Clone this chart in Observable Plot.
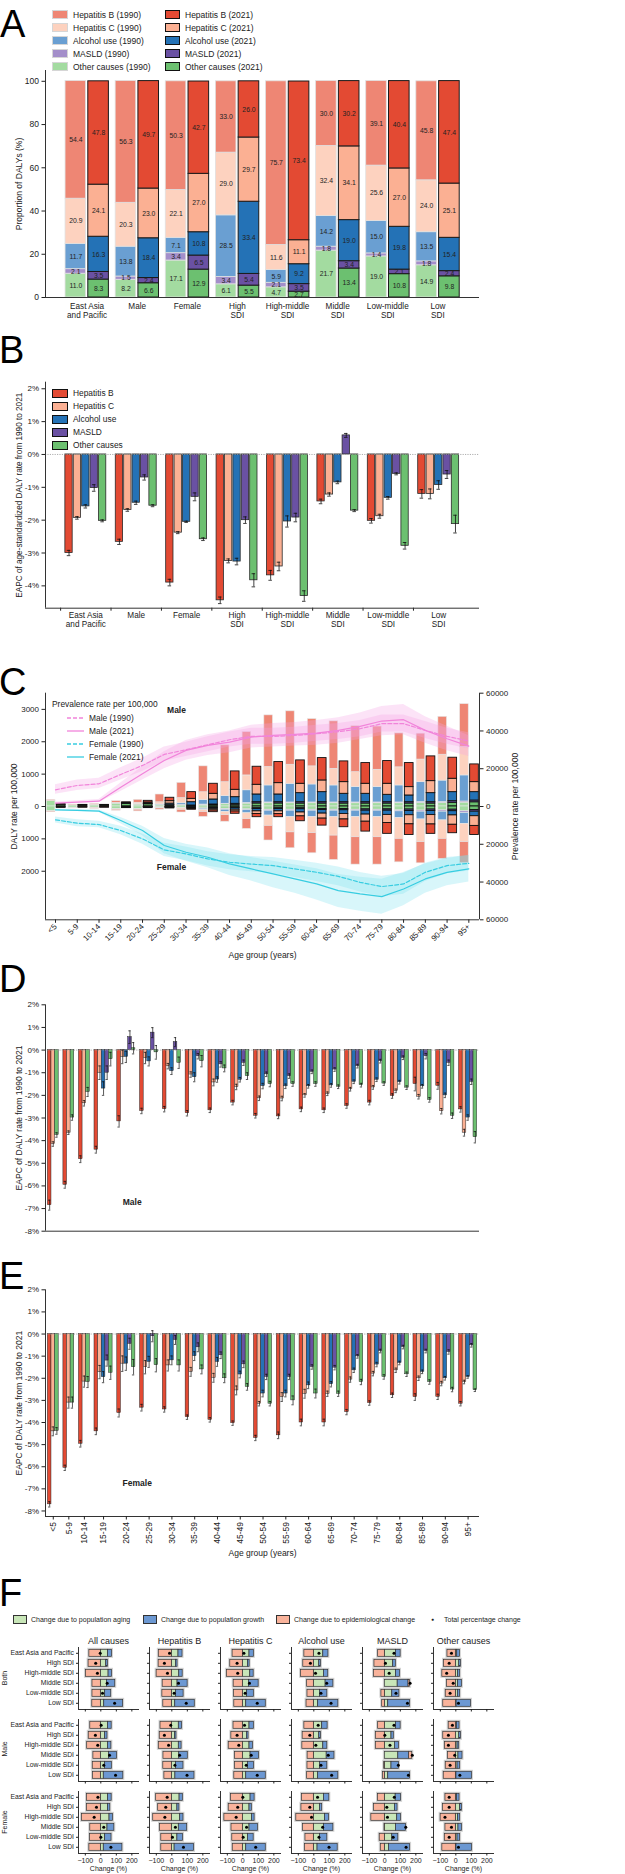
<!DOCTYPE html>
<html>
<head>
<meta charset="utf-8">
<script src="https://cdn.jsdelivr.net/npm/d3@7"></script>
<script src="https://cdn.jsdelivr.net/npm/@observablehq/plot@0.6"></script>
<style>
  body { margin: 0; background: #fff; }
  #fig { position: relative; width: 625px; height: 1874px; overflow: hidden;
         font-family: "Liberation Sans", Arial, sans-serif; color: #222; }
  .letter { position: absolute; font-size: 38px; line-height: 1; color: #000; }
  .lg { position: absolute; display: flex; align-items: center; white-space: nowrap; height: 12px; color: #222; }
  .sw { display: inline-block; box-sizing: border-box; }
  .rot { position: absolute; width: 80px; height: 12px; line-height: 12px; text-align: center;
         transform: rotate(-90deg); white-space: nowrap; color: #222; }
</style>
</head>
<body>
<div id="fig"></div>
<script>
// ---------- shared categories ----------
const causeNames = ["Hepatitis B", "Hepatitis C", "Alcohol use", "MASLD", "Other causes"];
const groupLabels = ["East Asia\nand Pacific", "Male", "Female", "High\nSDI", "High-middle\nSDI", "Middle\nSDI", "Low-middle\nSDI", "Low\nSDI"];
const ages = ["<5","5-9","10-14","15-19","20-24","25-29","30-34","35-39","40-44","45-49","50-54","55-59","60-64","65-69","70-74","75-79","80-84","85-89","90-94","95+"];

// ---------- A: share of DALYs (%) by cause ----------
const shareHepB1990  = [54.4, 56.3, 50.3, 33.0, 75.7, 30.0, 39.1, 45.8];
const shareHepB2021  = [47.8, 49.7, 42.7, 26.0, 73.4, 30.2, 40.4, 47.4];
const shareHepC1990  = [20.9, 20.3, 22.1, 29.0, 11.6, 32.4, 25.6, 24.0];
const shareHepC2021  = [24.1, 23.0, 27.0, 29.7, 11.1, 34.1, 27.0, 25.1];
const shareAlc1990   = [11.7, 13.8, 7.1, 28.5, 5.9, 14.2, 15.0, 13.5];
const shareAlc2021   = [16.3, 18.4, 10.8, 33.4, 9.2, 19.0, 19.8, 15.4];
const shareMasld1990 = [2.1, 1.5, 3.4, 3.4, 2.1, 1.8, 1.4, 1.8];
const shareMasld2021 = [3.5, 2.4, 6.5, 5.4, 3.5, 3.4, 2.1, 2.4];
const shareOther1990 = [11.0, 8.2, 17.1, 6.1, 4.7, 21.7, 19.0, 14.9];
const shareOther2021 = [8.3, 6.6, 12.9, 5.5, 2.7, 13.4, 10.8, 9.8];

// ---------- B: EAPC of age-standardized DALY rate (%) and CI half-widths ----------
const eapcHepB  = [-3.00, -2.66, -3.90, -4.44, -3.68, -1.43, -2.02, -1.20];
const eapcHepC  = [-1.93, -1.69, -2.38, -3.24, -3.41, -1.22, -1.88, -1.20];
const eapcAlc   = [-1.58, -1.47, -2.05, -3.26, -2.04, -0.85, -1.32, -0.93];
const eapcMasld = [-1.02, -0.70, -1.29, -2.00, -1.92, 0.58, -0.59, -0.61];
const eapcOther = [-2.02, -1.56, -2.58, -3.83, -4.31, -1.71, -2.78, -2.12];
const ciHepB  = [0.08, 0.08, 0.10, 0.10, 0.15, 0.07, 0.07, 0.13];
const ciHepC  = [0.04, 0.04, 0.03, 0.06, 0.13, 0.05, 0.06, 0.15];
const ciAlc   = [0.05, 0.05, 0.02, 0.10, 0.17, 0.04, 0.04, 0.13];
const ciMasld = [0.10, 0.08, 0.12, 0.10, 0.13, 0.06, 0.03, 0.12];
const ciOther = [0.03, 0.03, 0.04, 0.20, 0.16, 0.03, 0.10, 0.27];

// ---------- C: DALY rate per 100,000 by age (male up, female down) ----------
const m1990HepB  = [25, 15, 25, 50, 90, 240, 470, 800, 1140, 1340, 1595, 1650, 1460, 1465, 1420, 1335, 1050, 800, 1170, 1320];
const m1990HepC  = [5, 5, 5, 15, 40, 65, 160, 240, 430, 460, 570, 590, 560, 515, 460, 535, 560, 700, 800, 880];
const m1990Alc   = [0, 0, 0, 5, 10, 20, 55, 140, 235, 390, 525, 575, 555, 525, 475, 475, 525, 610, 660, 805];
const m1990Masld = [0, 0, 0, 5, 5, 5, 5, 10, 15, 20, 25, 25, 25, 25, 25, 25, 25, 30, 30, 35];
const m1990Other = [170, 40, 50, 90, 60, 40, 40, 50, 70, 90, 100, 100, 100, 100, 100, 100, 100, 110, 110, 120];
const m2021HepB  = [10, 10, 10, 25, 50, 105, 207, 310, 568, 557, 651, 722, 691, 640, 640, 702, 743, 764, 650, 547];
const m2021HepC  = [5, 5, 5, 10, 30, 75, 103, 175, 227, 299, 350, 289, 361, 361, 310, 341, 258, 371, 413, 309];
const m2021Alc   = [0, 0, 0, 5, 20, 50, 103, 155, 206, 238, 238, 279, 310, 258, 258, 227, 207, 279, 279, 258];
const m2021Masld = [0, 0, 0, 5, 5, 5, 10, 20, 28, 40, 40, 42, 42, 42, 42, 42, 42, 42, 50, 55];
const m2021Other = [55, 35, 35, 85, 70, 35, 21, 42, 55, 94, 94, 92, 92, 92, 92, 92, 92, 92, 115, 131];
const f1990HepB  = [20, 10, 15, 30, 50, 40, 80, 150, 200, 300, 450, 490, 620, 750, 845, 845, 725, 655, 620, 650];
const f1990HepC  = [5, 5, 5, 10, 20, 20, 45, 60, 100, 180, 320, 470, 495, 570, 620, 620, 640, 700, 570, 560];
const f1990Alc   = [0, 0, 0, 0, 5, 5, 15, 40, 70, 100, 150, 200, 200, 200, 200, 200, 210, 240, 270, 340];
const f1990Masld = [0, 0, 0, 5, 5, 5, 5, 10, 20, 20, 30, 30, 30, 30, 30, 30, 30, 35, 40, 50];
const f1990Other = [150, 45, 50, 85, 70, 30, 40, 60, 80, 90, 100, 100, 100, 100, 100, 100, 120, 125, 120, 150];
const f2021HepB  = [10, 5, 5, 10, 15, 15, 30, 50, 70, 100, 95, 150, 215, 240, 305, 335, 330, 290, 260, 280];
const f2021HepC  = [5, 3, 3, 5, 10, 15, 25, 40, 55, 80, 85, 120, 155, 170, 220, 250, 280, 290, 290, 300];
const f2021Alc   = [0, 0, 0, 2, 5, 10, 20, 40, 50, 70, 70, 100, 110, 115, 120, 130, 130, 125, 130, 140];
const f2021Masld = [0, 0, 0, 3, 5, 5, 5, 10, 15, 25, 25, 30, 35, 35, 40, 40, 45, 45, 45, 50];
const f2021Other = [25, 25, 25, 30, 15, 15, 20, 35, 35, 55, 55, 55, 75, 80, 90, 90, 95, 95, 100, 110];

// prevalence rate per 100,000 with uncertainty bounds
const prevMale1990   = [8840, 11140, 12020, 16970, 21750, 27580, 30060, 32710, 35360, 37130, 37130, 37660, 38540, 39600, 41190, 43850, 43850, 40310, 37130, 34650];
const prevMale1990Lo = [6500, 8500, 9500, 14000, 18500, 24000, 26500, 29000, 31500, 33000, 33000, 33500, 34500, 35500, 37000, 39500, 39500, 36000, 33000, 30500];
const prevMale1990Hi = [11500, 14000, 15000, 20500, 25500, 31500, 34000, 37000, 39500, 41500, 41500, 42000, 43000, 44000, 45500, 48500, 48500, 45000, 41500, 39000];
const prevMale2021   = [1770, 2300, 2830, 10250, 17330, 24400, 29700, 32350, 34120, 36770, 37660, 38190, 38900, 40310, 42430, 45260, 45970, 40310, 35890, 32000];
const prevMale2021Lo = [1200, 1600, 2000, 8000, 14000, 20000, 24500, 27000, 28500, 31000, 31500, 32000, 32500, 33500, 35500, 37500, 38000, 33500, 29500, 26500];
const prevMale2021Hi = [2400, 3000, 3700, 12500, 21000, 29000, 35000, 38000, 40000, 43000, 44000, 44500, 45500, 47000, 49500, 53000, 54000, 47500, 42500, 37500];
const prevFemale1990   = [7070, 8840, 9550, 12730, 17150, 22980, 25100, 27760, 29530, 30500, 31300, 33060, 34850, 37000, 40150, 42440, 41000, 34850, 31300, 30080];
const prevFemale1990Lo = [5500, 7000, 7800, 10500, 14500, 19500, 21500, 24000, 25500, 26500, 27000, 28500, 30000, 32000, 35000, 37000, 35500, 30000, 27000, 26000];
const prevFemale1990Hi = [8700, 10700, 11300, 15000, 20000, 26500, 28700, 31500, 33500, 34500, 35600, 37600, 39700, 42000, 45300, 47800, 46500, 39700, 35600, 34200];
const prevFemale2021   = [1770, 2100, 2470, 7420, 12730, 20680, 24220, 26870, 30400, 33060, 35700, 38360, 41000, 44560, 46320, 47740, 43660, 38360, 34850, 33060];
const prevFemale2021Lo = [1300, 1600, 1900, 5800, 10500, 17000, 20000, 22000, 25000, 27000, 29000, 31000, 33000, 36000, 37500, 38500, 35000, 30500, 27500, 26000];
const prevFemale2021Hi = [2300, 2700, 3100, 9200, 15500, 25000, 29000, 32500, 36500, 39500, 43000, 46000, 49500, 53500, 55500, 57000, 52500, 46000, 42000, 40000];

// ---------- D / E: EAPC of DALY rate by age (null = not estimated) ----------
const maleHepB  = [-6.85, -5.95, -4.82, -4.40, -3.15, -2.69, -2.61, -2.79, -2.66, -2.32, -2.90, -2.93, -2.62, -2.66, -2.47, -2.32, -2.03, -1.50, -1.58, -2.62];
const maleHepC  = [-4.15, -3.65, -2.35, -1.00, -0.30, -0.35, -0.71, -1.08, -1.43, -1.63, -2.13, -2.14, -2.00, -1.93, -1.73, -1.65, -1.80, -2.06, -2.70, -3.65];
const maleAlc   = [null, null, null, -1.70, -0.30, -0.50, -0.93, -1.20, -1.30, -1.31, -1.59, -1.60, -1.60, -1.56, -1.40, -1.31, -1.42, -1.60, -2.00, -2.98];
const maleMasld = [null, null, null, -1.00, 0.57, 0.77, 0.35, -0.27, -0.63, -0.56, -1.07, -1.15, -0.96, -0.86, -0.71, -0.49, -0.34, -0.27, -0.56, -1.40];
const maleOther = [-3.75, -2.98, -1.85, -0.40, 0.08, -0.10, -0.56, -0.49, -0.81, -1.15, -1.50, -1.50, -1.50, -1.62, -1.55, -1.48, -1.66, -2.20, -2.90, -3.85];
const maleCiHepB  = [0.22, 0.15, 0.15, 0.15, 0.25, 0.12, 0.12, 0.12, 0.10, 0.10, 0.10, 0.10, 0.10, 0.10, 0.10, 0.10, 0.10, 0.30, 0.15, 0.12];
const maleCiHepC  = [0.10, 0.08, 0.12, 0.30, 0.30, 0.25, 0.12, 0.12, 0.15, 0.12, 0.10, 0.10, 0.08, 0.08, 0.08, 0.08, 0.08, 0.10, 0.12, 0.15];
const maleCiAlc   = [null, null, null, 0.30, 0.25, 0.20, 0.15, 0.20, 0.12, 0.10, 0.12, 0.10, 0.08, 0.08, 0.08, 0.08, 0.08, 0.08, 0.10, 0.12];
const maleCiMasld = [null, null, null, 0.30, 0.28, 0.22, 0.20, 0.12, 0.12, 0.12, 0.10, 0.10, 0.08, 0.08, 0.08, 0.08, 0.08, 0.12, 0.12, 0.12];
const maleCiOther = [0.10, 0.12, 0.20, 0.30, 0.25, 0.30, 0.25, 0.25, 0.15, 0.15, 0.12, 0.10, 0.10, 0.08, 0.08, 0.08, 0.08, 0.10, 0.12, 0.25];
const femaleHepB  = [-7.70, -6.05, -4.96, -4.40, -3.57, -3.33, -3.41, -3.76, -3.88, -4.03, -4.70, -4.58, -4.00, -4.00, -3.53, -3.12, -2.77, -2.85, -2.84, -3.15];
const femaleHepC  = [-4.40, -3.10, -2.15, -1.72, -1.34, -1.50, -1.42, -1.71, -1.98, -2.55, -3.15, -2.85, -2.70, -2.70, -2.06, -1.79, -1.64, -2.00, -2.24, -2.17];
const femaleAlc   = [null, null, null, -1.95, -1.34, -1.26, -1.19, -1.00, -1.26, -1.83, -2.69, -2.69, -2.32, -2.27, -1.64, -1.38, -1.31, -1.71, -2.00, -1.94];
const femaleMasld = [null, null, null, -1.20, -0.44, -0.10, -0.27, -0.60, -0.96, -1.37, -1.94, -1.94, -1.49, -1.52, -1.01, -0.77, -0.59, -0.77, -0.81, -0.51];
const femaleOther = [-4.38, -3.10, -2.17, -1.75, -1.50, -1.41, -1.42, -1.60, -2.00, -2.39, -3.15, -3.00, -2.69, -2.70, -2.17, -1.94, -1.82, -2.17, -2.51, -2.54];
const femaleCiHepB  = [0.12, 0.12, 0.15, 0.15, 0.18, 0.15, 0.12, 0.10, 0.10, 0.10, 0.12, 0.15, 0.15, 0.15, 0.12, 0.10, 0.10, 0.15, 0.12, 0.10];
const femaleCiHepC  = [0.20, 0.25, 0.25, 0.30, 0.35, 0.30, 0.25, 0.20, 0.20, 0.20, 0.10, 0.20, 0.20, 0.12, 0.12, 0.10, 0.10, 0.10, 0.10, 0.08];
const femaleCiAlc   = [null, null, null, 0.25, 0.30, 0.25, 0.20, 0.20, 0.20, 0.15, 0.15, 0.15, 0.15, 0.12, 0.10, 0.10, 0.08, 0.08, 0.08, 0.06];
const femaleCiMasld = [null, null, null, 0.25, 0.25, 0.25, 0.20, 0.20, 0.15, 0.15, 0.12, 0.12, 0.10, 0.10, 0.08, 0.08, 0.08, 0.08, 0.10, 0.08];
const femaleCiOther = [0.15, 0.25, 0.25, 0.30, 0.35, 0.30, 0.25, 0.20, 0.20, 0.15, 0.10, 0.20, 0.20, 0.12, 0.12, 0.10, 0.10, 0.10, 0.10, 0.06];

// ---------- F: decomposition of DALY change (%), [cause][region] ----------
const fCauses  = ["All causes", "Hepatitis B", "Hepatitis C", "Alcohol use", "MASLD", "Other causes"];
const fRegions = ["East Asia and Pacific", "High SDI", "High-middle SDI", "Middle SDI", "Low-middle SDI", "Low SDI"];
const fSexes   = ["Both", "Male", "Female"];
const agingBoth  = [[46,35,50,39,28,22],[43,26,48,37,28,22],[43,33,48,39,28,22],[61,35,65,76,39,28],[72,54,72,83,48,22],[9,22,15,15,13,5]];
const growthBoth = [[26,11,22,54,39,122],[26,11,22,65,48,126],[28,11,22,63,43,126],[33,11,28,50,48,130],[30,17,26,70,46,141],[17,11,13,24,15,93]];
const epiBoth    = [[-74,-79,-96,-54,-54,-55],[-84,-85,-98,-59,-61,-55],[-66,-81,-103,-59,-56,-55],[-61,-68,-82,-43,-41,-47],[-43,-67,-70,10,-22,-17],[-54,-76,-87,-56,-65,-81]];
const totalBoth  = [[-4,-33,-22,41,11,89],[-15,-48,-28,43,15,93],[7,-37,-33,43,15,93],[33,-22,11,83,46,111],[59,4,28,163,72,146],[-28,-43,-59,-17,-37,17]];
const agingMale  = [[46,28,46,52,28,19],[45,21,45,48,27,23],[43,26,43,50,33,22],[54,35,61,83,39,28],[72,43,65,87,43,22],[7,22,11,17,11,4]];
const growthMale = [[24,15,22,52,43,126],[21,9,18,55,48,123],[28,11,22,54,39,126],[35,11,26,50,48,130],[30,15,26,70,48,141],[17,11,11,26,17,100]];
const epiMale    = [[-68,-78,-88,-48,-52,-50],[-73,-78,-84,-54,-55,-48],[-60,-74,-91,-50,-50,-55],[-61,-72,-74,-40,-41,-43],[-43,-58,-58,20,-4,-11],[-46,-81,-70,-50,-65,-78]];
const totalMale  = [[2,-35,-20,56,19,95],[-7,-48,-21,50,20,98],[11,-37,-26,54,22,93],[28,-26,13,93,46,115],[59,0,33,177,87,152],[-22,-48,-48,-7,-37,26]];
const agingFemale  = [[46,46,56,43,28,19],[50,36,54,45,36,18],[50,43,59,43,33,22],[65,39,72,65,39,24],[70,65,80,72,48,26],[7,28,15,17,11,4]];
const growthFemale = [[24,15,22,44,41,120],[21,13,21,54,36,125],[26,15,17,54,37,126],[35,15,26,61,48,130],[35,17,24,65,39,137],[17,11,13,22,17,100]];
const epiFemale    = [[-89,-89,-121,-68,-69,-74],[-101,-88,-120,-76,-68,-68],[-76,-91,-119,-73,-68,-65],[-76,-80,-113,-69,-54,-56],[-44,-69,-87,-2,-33,-26],[-67,-82,-98,-67,-71,-87]];
const totalFemale  = [[-19,-28,-43,19,0,65],[-30,-39,-45,23,4,75],[0,-33,-43,24,2,83],[24,-26,-15,57,33,98],[61,13,17,135,54,137],[-43,-43,-70,-28,-43,17]];

// ---------- styling ----------
const FONT = '"Liberation Sans", Arial, sans-serif';
const light = ["#ee8674", "#fdd2bf", "#6a9fd2", "#a48fca", "#a3dba0"];
const dark  = ["#e34a33", "#fbb093", "#2472b6", "#6a51a3", "#6cc070"];
const fColor = {aging: "#c8e6b8", growth: "#6c98d2", epi: "#f9b39b"};
const baseStyle = {fontFamily: FONT, fontSize: "8px", color: "#222", background: "transparent", overflow: "visible"};
const spine = {stroke: "#333", strokeWidth: 1};
const dotted = {stroke: "#9a9a9a", strokeWidth: 0.8, strokeDasharray: "1.2,1.2"};

const fig = document.getElementById("fig");
function place(el, top) {
  el.style.position = "absolute"; el.style.left = "0px"; el.style.top = top + "px";
  fig.appendChild(el);
}
function letter(ch, top, left) {
  const d = document.createElement("div");
  d.className = "letter"; d.textContent = ch;
  d.style.top = top + "px"; d.style.left = left + "px";
  fig.appendChild(d);
}
function legendSwatch(x, y, fill, edge, label, size, w = 16, h = 8.5, gap = 5) {
  const row = document.createElement("div");
  row.className = "lg";
  row.style.left = x + "px"; row.style.top = (y - 6) + "px"; row.style.fontSize = size + "px";
  const sw = document.createElement("span");
  sw.className = "sw";
  Object.assign(sw.style, {width: w + "px", height: h + "px", background: fill, border: `1px solid ${edge}`, marginRight: gap + "px"});
  row.append(sw, document.createTextNode(label));
  fig.appendChild(row);
}
function legendLine(x, y, color, dash, label, size) {
  const row = document.createElement("div");
  row.className = "lg";
  row.style.left = x + "px"; row.style.top = (y - 6) + "px"; row.style.fontSize = size + "px";
  const ns = "http://www.w3.org/2000/svg";
  const s = document.createElementNS(ns, "svg");
  s.setAttribute("width", "17"); s.setAttribute("height", "6"); s.style.marginRight = "5px";
  const l = document.createElementNS(ns, "line");
  l.setAttribute("x1", "0"); l.setAttribute("x2", "17"); l.setAttribute("y1", "3"); l.setAttribute("y2", "3");
  l.setAttribute("stroke", color); l.setAttribute("stroke-width", "1.3");
  if (dash) l.setAttribute("stroke-dasharray", dash);
  s.appendChild(l);
  row.append(s, document.createTextNode(label));
  fig.appendChild(row);
}
function textAt(x, y, str, size, css = {}) {
  const d = document.createElement("div");
  d.className = "lg";
  d.style.left = x + "px"; d.style.top = (y - 6) + "px"; d.style.fontSize = size + "px";
  Object.assign(d.style, css);
  d.textContent = str;
  fig.appendChild(d);
}
function rotLabel(cx, cy, str, size) {
  const d = document.createElement("div");
  d.className = "rot"; d.textContent = str;
  d.style.left = (cx - 40) + "px"; d.style.top = (cy - 6) + "px"; d.style.fontSize = size + "px";
  fig.appendChild(d);
}

// =============== Panel A ===============
const shares1990 = [shareHepB1990, shareHepC1990, shareAlc1990, shareMasld1990, shareOther1990];
const shares2021 = [shareHepB2021, shareHepC2021, shareAlc2021, shareMasld2021, shareOther2021];
const stackOrder = [4, 3, 2, 1, 0]; // bottom to top
function stackShares(series, year) {
  const out = [];
  groupLabels.forEach((g, i) => {
    let base = 0;
    for (const c of stackOrder) {
      const v = series[c][i];
      out.push({i, c, year, v, y1: base, y2: base + v});
      base += v;
    }
  });
  return out;
}
const a1990 = stackShares(shares1990, 1990);
const a2021 = stackShares(shares2021, 2021);
const xDomA = [-0.83, groupLabels.length - 0.17];
place(Plot.plot({
  width: 625, height: 335, marginTop: 70, marginBottom: 38, marginLeft: 45, marginRight: 146,
  style: baseStyle,
  x: {domain: xDomA},
  y: {domain: [0, 105]},
  color: {type: "identity"},
  marks: [
    Plot.rect(a1990, {x1: d => d.i - 0.43, x2: d => d.i - 0.02, y1: "y1", y2: "y2", fill: d => light[d.c], stroke: "#e0e0e0", strokeWidth: 0.8}),
    Plot.rect(a2021, {x1: d => d.i + 0.024, x2: d => d.i + 0.435, y1: "y1", y2: "y2", fill: d => dark[d.c], stroke: "#1b1b1b", strokeWidth: 1}),
    Plot.text([...a1990, ...a2021], {x: d => d.year === 1990 ? d.i - 0.225 : d.i + 0.23, y: d => (d.y1 + d.y2) / 2,
      text: d => d.v.toFixed(1), fontSize: 6.8, fill: "#222"}),
    Plot.axisY({ticks: [0, 20, 40, 60, 80, 100], tickSize: 3.5, tickPadding: 3, fontSize: 8.5, label: null}),
    Plot.axisX({ticks: d3.range(groupLabels.length), tickFormat: i => groupLabels[i], tickSize: 0, tickPadding: 5, fontSize: 8.2, lineHeight: 1.1, label: null}),
    Plot.ruleX([xDomA[0]], spine),
    Plot.ruleY([0], spine),
    Plot.text(["Proportion of DALYs (%)"], {frameAnchor: "left", rotate: -90, dx: -26, textAnchor: "middle", fontSize: 8.5})
  ]
}), 0);

// =============== Panel B ===============
const eapcB = [eapcHepB, eapcHepC, eapcAlc, eapcMasld, eapcOther];
const ciB = [ciHepB, ciHepC, ciAlc, ciMasld, ciOther];
const bRows = [];
causeNames.forEach((_, c) => groupLabels.forEach((g, i) =>
  bRows.push({i, c, v: eapcB[c][i], e: ciB[c][i], x: i + (c - 2) * 0.1667})));
const xDomB = [-0.8, 7.81];
const yDomB = [-4.68, 2.2];
place(Plot.plot({
  width: 625, height: 300, marginTop: 46.7, marginBottom: 27.3, marginLeft: 45, marginRight: 146,
  style: baseStyle,
  x: {domain: xDomB},
  y: {domain: yDomB},
  color: {type: "identity"},
  marks: [
    Plot.rect(bRows, {x1: d => d.x - 0.0725, x2: d => d.x + 0.0725, y1: 0, y2: "v", fill: d => dark[d.c], stroke: "#2a2a2a", strokeWidth: 0.8}),
    Plot.ruleY([0], dotted),
    Plot.ruleX(bRows, {x: "x", y1: d => d.v - d.e, y2: d => d.v + d.e, stroke: "#111", strokeWidth: 0.8}),
    Plot.ruleY(bRows, {y: d => d.v - d.e, x1: d => d.x - 0.035, x2: d => d.x + 0.035, stroke: "#111", strokeWidth: 0.8}),
    Plot.ruleY(bRows, {y: d => d.v + d.e, x1: d => d.x - 0.035, x2: d => d.x + 0.035, stroke: "#111", strokeWidth: 0.8}),
    Plot.axisY({ticks: d3.range(-4, 3), tickFormat: d => d + "%", tickSize: 3.5, tickPadding: 3, fontSize: 8, label: null}),
    Plot.axisX({ticks: d3.range(groupLabels.length).map(i => i - 0.5), tickFormat: () => "", tickSize: 3, label: null}),
    Plot.axisX({ticks: d3.range(groupLabels.length), tickFormat: i => groupLabels[i], tickSize: 0, tickPadding: 3, fontSize: 8.2, lineHeight: 1.1, label: null}),
    Plot.ruleX([xDomB[0]], spine),
    Plot.ruleY([yDomB[0]], spine),
    Plot.text(["EAPC of age-standardized DALY rate from 1990 to 2021"], {frameAnchor: "left", rotate: -90, dx: -26, textAnchor: "middle", fontSize: 8.2})
  ]
}), 335);

// =============== Panel C ===============
const male1990 = [m1990HepB, m1990HepC, m1990Alc, m1990Masld, m1990Other];
const male2021 = [m2021HepB, m2021HepC, m2021Alc, m2021Masld, m2021Other];
const female1990 = [f1990HepB, f1990HepC, f1990Alc, f1990Masld, f1990Other];
const female2021 = [f2021HepB, f2021HepC, f2021Alc, f2021Masld, f2021Other];
function stackAge(series, sign) {
  const out = [];
  ages.forEach((a, i) => {
    let base = 0;
    for (const c of stackOrder) {
      const v = series[c][i];
      if (v > 0) out.push({i, c, y1: sign * base, y2: sign * (base + v)});
      base += v;
    }
  });
  return out;
}
const cLight = [...stackAge(male1990, 1), ...stackAge(female1990, -1)];
const cDark = [...stackAge(male2021, 1), ...stackAge(female2021, -1)];
const kPrev = 3500 / 60000; // DALY-axis units per prevalence unit
const idx = ages.map((a, i) => i);
const xDomC = [-0.46, ages.length - 0.51];
const maleLine = "#f184da", maleBand = "#f6a3e6", femaleLine = "#38cde1", femaleBand = "#7fe0ef";
place(Plot.plot({
  width: 625, height: 330, marginTop: 52.7, marginBottom: 50.7, marginLeft: 45, marginRight: 146,
  style: baseStyle,
  x: {domain: xDomC},
  y: {domain: [-3500, 3500]},
  color: {type: "identity"},
  marks: [
    Plot.rect(cLight, {x1: d => d.i - 0.4, x2: d => d.i - 0.005, y1: "y1", y2: "y2", fill: d => light[d.c], stroke: "#e6e6e6", strokeWidth: 0.6}),
    Plot.rect(cDark, {x1: d => d.i + 0.06, x2: d => d.i + 0.46, y1: "y1", y2: "y2", fill: d => dark[d.c], stroke: "#111", strokeWidth: 0.9}),
    Plot.areaY(idx, {x: i => i, y1: i => prevMale1990Lo[i] * kPrev, y2: i => prevMale1990Hi[i] * kPrev, fill: maleBand, fillOpacity: 0.3}),
    Plot.areaY(idx, {x: i => i, y1: i => prevMale2021Lo[i] * kPrev, y2: i => prevMale2021Hi[i] * kPrev, fill: maleBand, fillOpacity: 0.3}),
    Plot.areaY(idx, {x: i => i, y1: i => -prevFemale1990Lo[i] * kPrev, y2: i => -prevFemale1990Hi[i] * kPrev, fill: femaleBand, fillOpacity: 0.3}),
    Plot.areaY(idx, {x: i => i, y1: i => -prevFemale2021Lo[i] * kPrev, y2: i => -prevFemale2021Hi[i] * kPrev, fill: femaleBand, fillOpacity: 0.3}),
    Plot.line(prevMale1990, {x: (d, i) => i, y: d => d * kPrev, stroke: maleLine, strokeWidth: 1.2, strokeDasharray: "4,2"}),
    Plot.line(prevMale2021, {x: (d, i) => i, y: d => d * kPrev, stroke: maleLine, strokeWidth: 1.2}),
    Plot.line(prevFemale1990, {x: (d, i) => i, y: d => -d * kPrev, stroke: femaleLine, strokeWidth: 1.2, strokeDasharray: "4,2"}),
    Plot.line(prevFemale2021, {x: (d, i) => i, y: d => -d * kPrev, stroke: femaleLine, strokeWidth: 1.2}),
    Plot.axisY({anchor: "left", ticks: [-2000, -1000, 0, 1000, 2000, 3000], tickFormat: d => String(Math.abs(d)), tickSize: 3.5, tickPadding: 3, fontSize: 8, label: null}),
    Plot.axisY({anchor: "right", ticks: [-60000, -40000, -20000, 0, 20000, 40000, 60000].map(v => v * kPrev),
      tickFormat: d => String(Math.abs(Math.round(d / kPrev))), tickSize: 3.5, tickPadding: 3, fontSize: 8, label: null}),
    Plot.axisX({ticks: idx, tickFormat: i => ages[i], tickRotate: -45, tickSize: 3.5, tickPadding: 2, fontSize: 8, label: null}),
    Plot.ruleX([xDomC[0]], spine),
    Plot.ruleX([xDomC[1]], spine),
    Plot.ruleY([-3500], spine),
    Plot.text(["DALY rate per 100,000"], {frameAnchor: "left", rotate: -90, dx: -31, textAnchor: "middle", fontSize: 8.5}),
    Plot.text(["Prevalence rate per 100,000"], {frameAnchor: "right", rotate: -90, dx: 36, textAnchor: "middle", fontSize: 8.5}),
    Plot.text(["Age group (years)"], {frameAnchor: "bottom", dy: 38.5, textAnchor: "middle", fontSize: 8.5}),
    Plot.text(["Male"], {frameAnchor: "top-left", dx: 131, dy: 13.3, textAnchor: "middle", fontWeight: "bold", fontSize: 8.5}),
    Plot.text(["Female"], {frameAnchor: "left", dx: 126, dy: 61, textAnchor: "middle", fontWeight: "bold", fontSize: 8.5})
  ]
}), 640);

// =============== Panels D and E ===============
function eapcPanel({series, ci, top, height, marginTop, marginBottom, yDomain, sexLabel, labelDx, labelDy, showAges}) {
  const bars = [], centers = [];
  let s = 0;
  ages.forEach((a, g) => {
    const present = [0, 1, 2, 3, 4].filter(c => series[c][g] != null);
    present.forEach((c, k) => bars.push({g, c, x: s + k + 0.5, v: series[c][g], e: ci[c][g]}));
    centers.push(s + present.length / 2);
    s += present.length + 1.3;
  });
  const xDom = [-0.65, s - 1.3 + 0.65];
  const labelAt = new Map(centers.map((c, g) => [c, ages[g]]));
  const marks = [
    Plot.rect(bars, {x1: d => d.x - 0.5, x2: d => d.x + 0.5, y1: 0, y2: "v", fill: d => dark[d.c], stroke: "#262626", strokeWidth: 0.5}),
    Plot.ruleY([0], dotted),
    Plot.ruleX(bars, {x: "x", y1: d => d.v - d.e, y2: d => d.v + d.e, stroke: "#111", strokeWidth: 0.7}),
    Plot.ruleY(bars, {y: d => d.v - d.e, x1: d => d.x - 0.32, x2: d => d.x + 0.32, stroke: "#111", strokeWidth: 0.7}),
    Plot.ruleY(bars, {y: d => d.v + d.e, x1: d => d.x - 0.32, x2: d => d.x + 0.32, stroke: "#111", strokeWidth: 0.7}),
    Plot.axisY({ticks: d3.range(-8, 3), tickFormat: d => d + "%", tickSize: 3.5, tickPadding: 3, fontSize: 8, label: null}),
    Plot.ruleX([xDom[0]], spine),
    Plot.ruleY([yDomain[0]], spine),
    Plot.text(["EAPC of DALY rate from 1990 to 2021"], {frameAnchor: "left", rotate: -90, dx: -26, textAnchor: "middle", fontSize: 8.5}),
    Plot.text([sexLabel], {frameAnchor: "bottom-left", dx: labelDx, dy: labelDy, textAnchor: "middle", fontWeight: "bold", fontSize: 8.5})
  ];
  if (showAges) {
    marks.push(
      Plot.axisX({ticks: centers, tickFormat: d => labelAt.get(d), tickRotate: -90, tickSize: 3.5, tickPadding: 2, fontSize: 8.5, label: null}),
      Plot.text(["Age group (years)"], {frameAnchor: "bottom", dy: 39, textAnchor: "middle", fontSize: 8.5}));
  }
  place(Plot.plot({
    width: 625, height, marginTop, marginBottom, marginLeft: 45, marginRight: 146,
    style: baseStyle,
    x: {domain: xDom, axis: showAges ? undefined : null},
    y: {domain: yDomain},
    color: {type: "identity"},
    marks
  }), top);
}
eapcPanel({
  series: [maleHepB, maleHepC, maleAlc, maleMasld, maleOther],
  ci: [maleCiHepB, maleCiHepC, maleCiAlc, maleCiMasld, maleCiOther],
  top: 970, height: 270, marginTop: 34.3, marginBottom: 9.3, yDomain: [-8, 2],
  sexLabel: "Male", labelDx: 86.7, labelDy: -26, showAges: false
});
eapcPanel({
  series: [femaleHepB, femaleHepC, femaleAlc, femaleMasld, femaleOther],
  ci: [femaleCiHepB, femaleCiHepC, femaleCiAlc, femaleCiMasld, femaleCiOther],
  top: 1240, height: 325, marginTop: 49.3, marginBottom: 49, yDomain: [-8.25, 2],
  sexLabel: "Female", labelDx: 91.7, labelDy: -30.3, showAges: true
});

// =============== Panel F ===============
const fTables = [
  [agingBoth, growthBoth, epiBoth, totalBoth],
  [agingMale, growthMale, epiMale, totalMale],
  [agingFemale, growthFemale, epiFemale, totalFemale]
];
const fSegs = [], fHalo = [], fDots = [];
fSexes.forEach((sex, si) => {
  const [ag, gr, ep, to] = fTables[si];
  fCauses.forEach((cause, ci) => fRegions.forEach((region, ri) => {
    let pos = 0, neg = 0;
    for (const [k, v] of [["aging", ag[ci][ri]], ["growth", gr[ci][ri]], ["epi", ep[ci][ri]]]) {
      if (v >= 0) { fSegs.push({sex, cause, region, k, x1: pos, x2: pos + v}); pos += v; }
      else { fSegs.push({sex, cause, region, k, x1: neg + v, x2: neg}); neg += v; }
    }
    fHalo.push({sex, cause, region, x1: neg, x2: pos});
    fDots.push({sex, cause, region, total: to[ci][ri]});
  }));
});
const fTicks = [-100, 0, 100, 200];
place(Plot.plot({
  width: 625, height: 249, marginTop: 21.7, marginBottom: 21.3, marginLeft: 77.3, marginRight: 132.4,
  style: baseStyle,
  x: {domain: [-144, 243]},
  y: {domain: fRegions, paddingInner: 0.28, paddingOuter: 0.16},
  fx: {domain: fCauses, paddingInner: 0.159, paddingOuter: 0},
  fy: {domain: fSexes, paddingInner: 0.139, paddingOuter: 0, axis: null},
  color: {type: "identity"},
  marks: [
    Plot.barX(fHalo, {x1: "x1", x2: "x2", y: "region", fx: "cause", fy: "sex", fill: "#d2d2d2", stroke: "#d2d2d2", strokeWidth: 3}),
    Plot.barX(fSegs, {x1: "x1", x2: "x2", y: "region", fx: "cause", fy: "sex", fill: d => fColor[d.k], stroke: "#333", strokeWidth: 0.7}),
    Plot.dot(fDots, {x: "total", y: "region", fx: "cause", fy: "sex", r: 1.5, fill: "#000"}),
    Plot.frame({anchor: "left", stroke: "#333"}),
    Plot.frame({anchor: "bottom", stroke: "#333"}),
    Plot.axisY({tickSize: 2, tickFormat: () => "", facetAnchor: null, label: null}),
    Plot.axisY({tickSize: 0, tickPadding: 4.5, fontSize: 6.8, label: null}),
    Plot.axisX({ticks: fTicks, tickSize: 2.5, tickFormat: () => "", facetAnchor: null, label: null}),
    Plot.axisX({ticks: fTicks, tickSize: 0, tickPadding: 5, fontSize: 7, label: null}),
    Plot.axisFx({anchor: "top", tickSize: 0, tickPadding: 4, fontSize: 9, label: null}),
    Plot.text(fCauses, {fx: d => d, fy: () => "Female", text: () => "Change (%)", frameAnchor: "bottom", dy: 17, textAnchor: "middle", fontSize: 7})
  ]
}), 1625);

// =============== legends, panel letters, annotations ===============
// A legend
causeNames.forEach((name, c) => {
  legendSwatch(52, 14.5 + 13 * c, light[c], "#d6d6d6", `${name} (1990)`, 8.5);
  legendSwatch(165, 14.5 + 13 * c, dark[c], "#111", `${name} (2021)`, 8.5, 15);
});
// B legend
causeNames.forEach((name, c) => legendSwatch(52, 393.3 + 13 * c, dark[c], "#111", name, 8.4));
// C legend
textAt(52, 704, "Prevalence rate per 100,000", 8.4);
legendLine(67, 717.7, maleLine, "4,2", "Male (1990)", 8.4);
legendLine(67, 730.7, maleLine, null, "Male (2021)", 8.4);
legendLine(67, 743.7, femaleLine, "4,2", "Female (1990)", 8.4);
legendLine(67, 756.7, femaleLine, null, "Female (2021)", 8.4);
// F legend
legendSwatch(13, 1619.3, fColor.aging, "#333", "Change due to population aging", 7, 14, 8.5, 4);
legendSwatch(143, 1619.3, fColor.growth, "#333", "Change due to population growth", 7, 14, 8.5, 4);
legendSwatch(276, 1619.3, fColor.epi, "#333", "Change due to epidemiological change", 7, 14, 8.5, 4);
textAt(431, 1619.3, "\u25CF", 5);
textAt(444, 1619.3, "Total percentage change", 7);
// F row labels
rotLabel(5, 1677.5, "Both", 7);
rotLabel(5, 1749.2, "Male", 7);
rotLabel(5, 1821.7, "Female", 7);
// panel letters
letter("A", 5, 0);
letter("B", 331, -1);
letter("C", 663, -1);
letter("D", 960, -1);
letter("E", 1257, -1);
letter("F", 1574, -1);
</script>
</body>
</html>
